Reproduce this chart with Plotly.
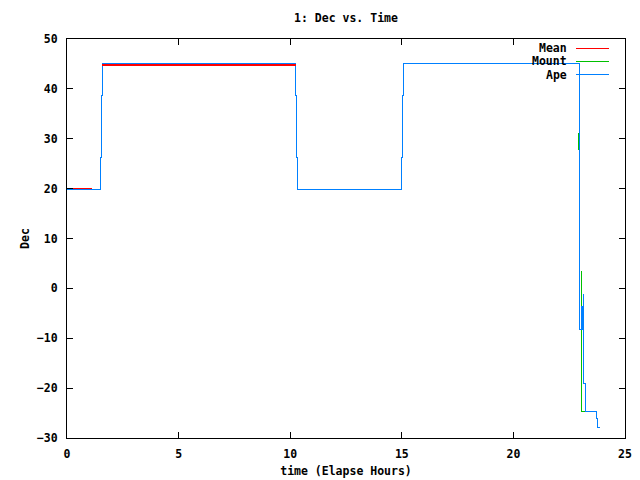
import plotly.graph_objects as go

# Data (hours, degrees)
ape_t = [0, 1.51, 1.54, 1.58, 10.23, 10.27, 10.32, 14.98, 15.02, 15.07,
         22.97, 23.07, 23.10, 23.13, 23.15, 23.16, 23.21, 23.73, 23.79, 23.88]
ape_v = [19.8, 26.2, 38.7, 45.1, 38.7, 26.2, 19.8, 26.2, 38.7, 45.1,
         -8.3, -3.6, -8.3, -1.3, -7.3, -19.0, -24.6, -26.0, -27.8, -27.8]

mount_t = [0, 1.51, 1.54, 1.58, 10.23, 10.27, 10.32, 14.98, 15.02, 15.07, 22.97, 22.97,
           None, 22.93, 22.93, None, 23.05, 23.05, 23.21]
mount_v = [19.8, 26.2, 38.7, 45.1, 38.7, 26.2, 19.8, 26.2, 38.7, 45.1, 45.1, 31.2,
           None, 31.2, 27.8, None, 3.4, -24.6, -24.6]

mean_t = [0, 1.12, None, 1.57, 10.26]
mean_v = [20.0, 20.0, None, 44.8, 44.8]

series_names = ["Mean", "Mount", "Ape"]
series_colors = ["#ff0000", "#00c000", "#0080ff"]

x_ticks = [0, 5, 10, 15, 20, 25]
y_ticks = [-30, -20, -10, 0, 10, 20, 30, 40, 50]

FONT = dict(family="DejaVu Sans Mono", size=11.5, color="black", weight="bold")

fig = go.Figure()
fig.add_trace(go.Scatter(x=mount_t, y=mount_v, mode="lines", name="Mount", line_shape="hv",
                         line=dict(color=series_colors[1], width=1), showlegend=False))
fig.add_trace(go.Scatter(x=ape_t, y=ape_v, mode="lines", name="Ape", line_shape="hv",
                         line=dict(color=series_colors[2], width=1), showlegend=False))
fig.add_trace(go.Scatter(x=mean_t, y=mean_v, mode="lines", name="Mean",
                         line=dict(color=series_colors[0], width=1.5), showlegend=False))

# gnuplot-style legend (text right, sample line to the right)
W0, W1, H0, H1 = 67, 625, 39, 438
def px(x):
    return (x - W0) / (W1 - W0)
def py(y):
    return (H1 - y) / (H1 - H0)

for i, (nm, col) in enumerate(zip(series_names, series_colors)):
    yy = 48 + i * 13.3
    fig.add_annotation(x=px(569), y=py(yy), xref="paper", yref="paper", text=nm,
                       showarrow=False, xanchor="right", yanchor="middle", font=FONT)
    fig.add_shape(type="line", xref="paper", yref="paper", x0=px(576), x1=px(609),
                  y0=py(yy), y1=py(yy), line=dict(color=col, width=1))

axis_common = dict(showline=True, mirror="ticks", linecolor="black", linewidth=1,
                   ticks="inside", ticklen=6, tickcolor="black", showgrid=False,
                   zeroline=False, tickfont=FONT, automargin=False)

fig.update_layout(
    width=640, height=480,
    margin=dict(l=67, r=15, t=39, b=42, autoexpand=False),
    plot_bgcolor="white", paper_bgcolor="white",
    font=FONT,
    title=dict(text="1: Dec vs. Time", x=(W0 + W1) / 2 / 640, xanchor="center",
               y=1 - 18 / 480, yanchor="middle", font=FONT, automargin=False),
    xaxis=dict(range=[0, 25], tickvals=x_ticks, ticklabelstandoff=5,
               title=dict(text="time (Elapse Hours)", font=FONT, standoff=7),
               **axis_common),
    yaxis=dict(range=[-30, 50], tickvals=y_ticks, ticklabelstandoff=6,
               title=dict(text="Dec", font=FONT, standoff=4),
               **axis_common),
    showlegend=False,
)

fig.write_html(
    "out.html",
    config={"displayModeBar": False},
    post_script=(
        "document.body.style.margin='0';document.body.style.overflow='hidden';"
        "document.querySelectorAll('.scatterlayer path, .shapelayer path').forEach("
        "function(p){p.style.shapeRendering='crispEdges';});"
    ),
)
